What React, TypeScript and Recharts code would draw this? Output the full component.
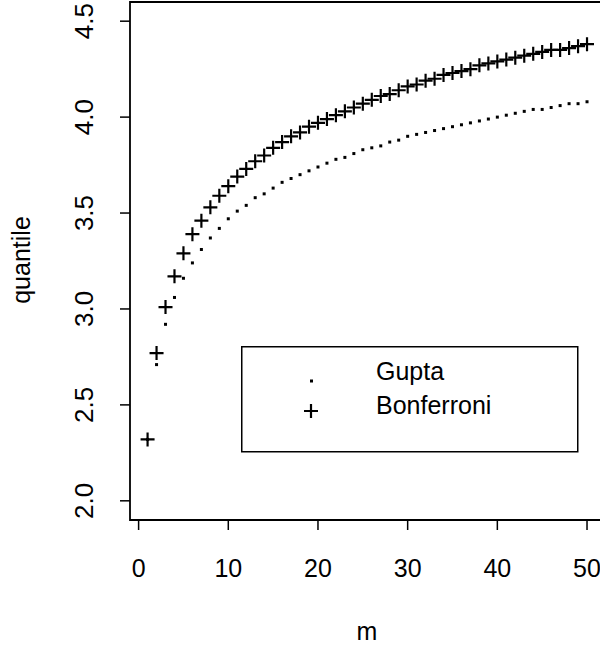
import { ScatterChart, Scatter, XAxis, YAxis, ReferenceArea, Legend } from 'recharts';

// number of comparisons
const mValues = [
  1, 2, 3, 4, 5, 6, 7, 8, 9, 10,
  11, 12, 13, 14, 15, 16, 17, 18, 19, 20,
  21, 22, 23, 24, 25, 26, 27, 28, 29, 30,
  31, 32, 33, 34, 35, 36, 37, 38, 39, 40,
  41, 42, 43, 44, 45, 46, 47, 48, 49, 50,
];

// quantiles
const guptaValues = [
  2.32, 2.71, 2.92, 3.06, 3.16, 3.24, 3.31, 3.37, 3.42, 3.47,
  3.51, 3.54, 3.58, 3.60, 3.63, 3.66, 3.68, 3.70, 3.72, 3.74,
  3.76, 3.78, 3.79, 3.81, 3.83, 3.84, 3.85, 3.87, 3.88, 3.90,
  3.91, 3.92, 3.93, 3.94, 3.95, 3.96, 3.97, 3.98, 3.99, 4.00,
  4.01, 4.02, 4.03, 4.04, 4.04, 4.05, 4.06, 4.07, 4.07, 4.08,
];

const bonferroniValues = [
  2.32, 2.77, 3.01, 3.17, 3.29, 3.39, 3.46, 3.53, 3.59, 3.64,
  3.69, 3.73, 3.77, 3.80, 3.84, 3.87, 3.90, 3.92, 3.95, 3.97,
  3.99, 4.01, 4.03, 4.05, 4.07, 4.09, 4.11, 4.12, 4.14, 4.16,
  4.17, 4.19, 4.20, 4.22, 4.23, 4.24, 4.25, 4.27, 4.28, 4.29,
  4.30, 4.31, 4.32, 4.33, 4.34, 4.35, 4.35, 4.36, 4.37, 4.38,
];

const xTicks = [0, 10, 20, 30, 40, 50];
const yTicks = [2.0, 2.5, 3.0, 3.5, 4.0, 4.5];
const seriesNames = ['Gupta', 'Bonferroni'];

const FONT = '"Liberation Sans", Arial, Helvetica, sans-serif';

const guptaData = mValues.map((m, i) => ({ m, q: guptaValues[i] }));
const bonferroniData = mValues.map((m, i) => ({ m, q: bonferroniValues[i] }));

// R style axis ranges (data range + 4%)
const X_DOMAIN: [number, number] = [-0.96, 51.96];
const Y_DOMAIN: [number, number] = [1.9, 4.6];

function PlusShape(props: any) {
  const { cx, cy } = props;
  return (
    <path
      d={`M${cx - 7},${cy}H${cx + 7}M${cx},${cy - 7}V${cy + 7}`}
      stroke="#000"
      strokeWidth={2.2}
      fill="none"
    />
  );
}

function DotShape(props: any) {
  const { cx, cy } = props;
  return <rect x={cx - 1.5} y={cy - 1.5} width={3} height={3} fill="#000" />;
}

const XTick = ({ x, payload }: any) => (
  <text x={x} y={577} textAnchor="middle" fontSize={25} fontFamily={FONT} fill="#000">
    {payload.value}
  </text>
);

const YTick = ({ y, payload }: any) => (
  <text
    transform={`translate(93,${y}) rotate(-90)`}
    textAnchor="middle"
    fontSize={26}
    fontFamily={FONT}
    fill="#000"
  >
    {Number(payload.value).toFixed(1)}
  </text>
);

const LegendBox = () => (
  <svg width={338} height={107} style={{ display: 'block' }}>
    <rect x={0.75} y={0.75} width={336} height={105} fill="#fff" stroke="#000" strokeWidth={1.5} />
    <rect x={69} y={33.5} width={3} height={3} fill="#000" />
    <path d="M63,65H77M70,58V72" stroke="#000" strokeWidth={2.2} />
    <text x={135} y={34} fontSize={25} fontFamily={FONT} fill="#000">{seriesNames[0]}</text>
    <text x={135} y={68} fontSize={25} fontFamily={FONT} fill="#000">{seriesNames[1]}</text>
  </svg>
);

export default function App() {
  return (
    <div style={{ position: 'absolute', left: 0, top: 0, width: 600, height: 648, overflow: 'hidden', background: '#fff' }}>
      <ScatterChart width={620} height={648} margin={{ top: 2, right: 15.4, bottom: 0, left: 0 }}>
        <XAxis
          type="number"
          dataKey="m"
          domain={X_DOMAIN}
          allowDataOverflow
          ticks={xTicks}
          height={128}
          tickSize={10}
          axisLine={false}
          tickLine={{ stroke: '#000', strokeWidth: 1.5 }}
          tick={<XTick />}
          label={() => (
            <text x={367} y={640} textAnchor="middle" fontSize={25} fontFamily={FONT} fill="#000">m</text>
          )}
        />
        <YAxis
          type="number"
          dataKey="q"
          domain={Y_DOMAIN}
          allowDataOverflow
          ticks={yTicks}
          width={130}
          tickSize={10}
          axisLine={false}
          tickLine={{ stroke: '#000', strokeWidth: 1.5 }}
          tick={<YTick />}
          label={() => (
            <text transform="translate(30,260) rotate(-90)" textAnchor="middle" fontSize={25} fontFamily={FONT} fill="#000">
              quantile
            </text>
          )}
        />
        <ReferenceArea
          x1={X_DOMAIN[0]}
          x2={X_DOMAIN[1]}
          y1={Y_DOMAIN[0]}
          y2={Y_DOMAIN[1]}
          fill="none"
          fillOpacity={0}
          stroke="#000"
          strokeWidth={1.8}
          ifOverflow="visible"
        />
        <Scatter name={seriesNames[0]} data={guptaData} shape={<DotShape />} isAnimationActive={false} />
        <Scatter name={seriesNames[1]} data={bonferroniData} shape={<PlusShape />} isAnimationActive={false} />
        <Legend
          layout="vertical"
          align="center"
          verticalAlign="middle"
          wrapperStyle={{ left: 241, top: 346, width: 338, height: 107 }}
          content={() => <LegendBox />}
        />
      </ScatterChart>
    </div>
  );
}
